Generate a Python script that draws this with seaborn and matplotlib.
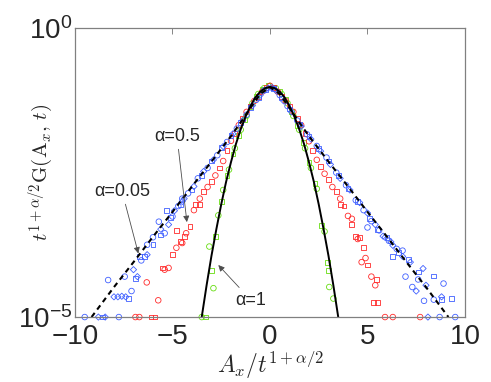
import matplotlib
matplotlib.use("Agg")
import matplotlib.pyplot as plt
import seaborn as sns
from matplotlib.ticker import NullLocator

# --- DATA ---
# alpha = 0.05 (blue)
blue_circ_x = [-9.5, -7.75, -8.3, -7.45, -7.1, -6.6, -6.3, -6.0, -5.7, -5.4, -5.0, -4.7, -4.5, -4.2,
               -3.7, -3.2, -2.7, -2.2, -1.7, -1.2, -0.7, -0.3, 0.1, 0.5, 0.9, 1.4, 1.9, 2.4, 2.9,
               3.4, 3.9, 4.4, 4.8, 5.0, 5.2, 5.6, 6.1, 6.5, 6.8, 6.95, 7.3, 7.6, 7.9, 8.4, 8.9,
               8.7, 9.5]
blue_circ_y = [1.0e-5, 1.0e-5, 4.37e-5, 5.01e-5, 2.82e-5, 9.55e-5, 1.78e-4, 2.40e-4, 4.47e-4, 2.82e-4,
               5.50e-4, 8.32e-4, 1.12e-3, 1.38e-3, 2.51e-3, 3.80e-3, 6.31e-3, 1.07e-2, 1.82e-2, 3.16e-2,
               5.75e-2, 8.32e-2, 9.33e-2, 6.92e-2, 4.47e-2, 2.51e-2, 1.45e-2, 9.12e-3, 5.75e-3, 3.16e-3,
               1.91e-3, 1.05e-3, 7.08e-4, 3.55e-4, 4.57e-4, 3.16e-4, 2.09e-4, 1.51e-4, 1.41e-4, 5.01e-5,
               3.31e-5, 4.47e-5, 1.91e-5, 2.0e-5, 3.80e-5, 1.0e-5, 1.0e-5]
blue_diam_x = [-8.8, -8.45, -8.0, -7.8, -7.6, -7.4, -7.0, -6.8, -6.3, -5.6, -5.2, -4.9, -4.5, -4.4,
               -3.9, -3.4, -2.9, -2.4, -1.9, -1.4, -0.9, -0.5, -0.1, 0.3, 0.7, 1.1, 1.6, 2.1, 2.6,
               3.1, 3.6, 4.1, 4.6, 5.0, 5.4, 5.8, 5.9, 6.2, 6.3, 6.8, 7.2, 7.5, 7.85, 8.0, 8.8, 8.1]
blue_diam_y = [1.0e-5, 1.0e-5, 2.24e-5, 2.24e-5, 2.29e-5, 2.24e-5, 6.61e-5, 5.01e-5, 1.20e-4, 3.31e-4,
               3.98e-4, 6.92e-4, 1.0e-3, 1.12e-3, 1.82e-3, 3.31e-3, 5.25e-3, 8.91e-3, 1.48e-2, 2.51e-2,
               4.57e-2, 6.92e-2, 9.12e-2, 8.32e-2, 5.50e-2, 3.55e-2, 2.00e-2, 1.20e-2, 7.41e-3, 4.37e-3,
               2.51e-3, 1.58e-3, 9.55e-4, 6.31e-4, 3.98e-4, 2.51e-4, 2.40e-4, 2.0e-4, 1.74e-4, 1.12e-4,
               8.91e-5, 2.82e-5, 6.92e-5, 3.55e-5, 2.24e-5, 1.0e-5]
blue_sq_x = [-8.6, -7.26, -6.9, -6.7, -6.45, -6.0, -5.6, -5.3, -5.1, -4.6, -4.0, -3.5, -3.0, -2.5,
             -2.0, -1.5, -1.0, -0.6, -0.2, 0.2, 0.6, 1.0, 1.5, 2.0, 2.5, 3.0, 3.5, 4.0, 4.5, 5.1,
             5.5, 6.0, 6.3, 6.6, 7.1, 7.6, 8.38, 8.8, 9.32]
blue_sq_y = [1.0e-5, 2.09e-5, 4.68e-5, 1.12e-4, 1.12e-4, 1.78e-4, 2.63e-4, 7.08e-4, 5.25e-4, 8.91e-4,
             1.58e-3, 2.82e-3, 5.01e-3, 8.71e-3, 1.38e-2, 2.34e-2, 4.17e-2, 6.31e-2, 8.71e-2, 8.91e-2,
             6.17e-2, 3.98e-2, 2.19e-2, 1.32e-2, 8.32e-3, 5.01e-3, 2.82e-3, 1.66e-3, 1.0e-3, 5.01e-4,
             3.31e-4, 2.40e-4, 1.12e-4, 1.32e-4, 1.0e-4, 6.03e-5, 5.13e-5, 2.0e-5, 2.09e-5]

# alpha = 0.5 (red)
red_circ_x = [-6.9, -6.7, -6.32, -5.73, -5.4, -5.2, -4.8, -4.5, -4.3, -3.9, -3.6, -3.2, -2.8, -2.4,
              -2.0, -1.6, -1.2, -0.8, -0.4, 0.0, 0.4, 0.8, 1.2, 1.6, 2.0, 2.4, 2.8, 3.2, 3.6, 4.0,
              4.2, 4.5, 4.7, 4.9, 5.2, 5.4, 5.9, 6.3, 7.7]
red_circ_y = [1.0e-5, 1.0e-5, 3.98e-5, 1.95e-5, 6.61e-5, 7.08e-5, 1.58e-4, 1.91e-4, 2.82e-4, 7.08e-4,
              1.12e-3, 1.78e-3, 2.82e-3, 5.01e-3, 1.12e-2, 2.09e-2, 3.55e-2, 5.50e-2, 7.94e-2, 1.0e-1,
              7.94e-2, 5.50e-2, 3.55e-2, 2.09e-2, 1.10e-2, 5.25e-3, 3.02e-3, 1.78e-3, 1.12e-3, 5.62e-4,
              5.01e-4, 2.24e-4, 8.91e-5, 1.05e-4, 5.01e-5, 3.55e-5, 1.0e-5, 1.0e-5, 1.0e-5]
red_sq_x = [-6.1, -5.9, -5.5, -5.0, -4.8, -4.6, -4.4, -4.1, -3.8, -3.6, -3.4, -3.0, -2.6, -2.2,
            -1.8, -1.4, -1.0, -0.6, -0.2, 0.2, 0.6, 1.0, 1.4, 1.8, 2.2, 2.6, 3.0, 3.4, 3.6, 3.8,
            4.2, 4.4, 4.6, 4.8, 5.0, 5.45, 5.5, 5.3]
red_sq_y = [1.0e-5, 1.0e-5, 7.08e-5, 1.20e-4, 3.16e-4, 2.00e-4, 2.51e-4, 3.63e-4, 8.91e-4, 8.91e-4,
            1.48e-3, 2.24e-3, 3.80e-3, 7.59e-3, 1.51e-2, 2.75e-2, 4.47e-2, 6.61e-2, 9.33e-2, 9.33e-2,
            6.61e-2, 4.47e-2, 2.75e-2, 1.51e-2, 7.59e-3, 3.98e-3, 2.40e-3, 1.51e-3, 8.91e-4, 8.32e-4,
            3.98e-4, 2.51e-4, 2.40e-4, 1.58e-4, 7.94e-5, 4.47e-5, 1.78e-5, 1.78e-5]

# alpha = 1 (green)
green_circ_x = [-3.5, -3.11, -2.9, -2.65, -2.4, -2.1, -1.8, -1.5, -1.2, -0.9, -0.6, -0.3, 0.0,
                0.3, 0.6, 0.9, 1.2, 1.5, 1.8, 2.1, 2.4, 2.8, 3.04, 3.25]
green_circ_y = [1.0e-5, 1.66e-4, 3.16e-5, 5.75e-4, 1.58e-3, 3.55e-3, 8.32e-3, 1.74e-2, 3.02e-2,
                5.01e-2, 7.24e-2, 9.12e-2, 1.0e-1, 9.12e-2, 7.24e-2, 5.01e-2, 3.02e-2, 1.74e-2,
                8.32e-3, 3.80e-3, 1.66e-3, 3.02e-4, 3.31e-5, 2.09e-5]
green_sq_x = [-3.3, -2.99, -2.8, -2.5, -2.2, -1.9, -1.6, -1.3, -1.0, -0.7, -0.4, -0.1, 0.2, 0.5,
              0.8, 1.1, 1.4, 1.7, 2.0, 2.31, 2.65, 2.95, 3.0]
green_sq_y = [1.0e-5, 6.46e-5, 2.51e-4, 1.0e-3, 2.82e-3, 6.61e-3, 1.38e-2, 2.63e-2, 4.37e-2, 6.61e-2,
              8.71e-2, 1.0e-1, 9.55e-2, 7.94e-2, 5.75e-2, 3.63e-2, 2.09e-2, 1.05e-2, 4.79e-3, 2.04e-3,
              3.89e-4, 8.91e-5, 6.46e-5]

# black curves
gauss_x = [-3.5, -3.25, -3.0, -2.75, -2.5, -2.25, -2.0, -1.75, -1.5, -1.25, -1.0, -0.75, -0.5, -0.25,
           0.0, 0.25, 0.5, 0.75, 1.0, 1.25, 1.5, 1.75, 2.0, 2.25, 2.5, 2.75, 3.0, 3.25, 3.5]
gauss_y = [1.0e-5, 3.55e-5, 1.15e-4, 3.31e-4, 8.91e-4, 2.19e-3, 4.79e-3, 9.77e-3, 1.78e-2, 2.95e-2,
           4.47e-2, 6.31e-2, 7.94e-2, 9.12e-2, 9.55e-2, 9.12e-2, 7.94e-2, 6.31e-2, 4.47e-2, 2.95e-2,
           1.78e-2, 9.77e-3, 4.79e-3, 2.19e-3, 8.91e-4, 3.31e-4, 1.15e-4, 3.55e-5, 1.0e-5]
dash_x = [-9.15, -8.0, -7.0, -6.0, -5.0, -4.0, -3.0, -2.0, -1.5, -1.0, -0.5, 0.0,
          0.5, 1.0, 1.5, 2.0, 3.0, 4.0, 5.0, 6.0, 7.0, 8.0, 9.15]
dash_y = [1.0e-5, 3.3e-5, 8.9e-5, 2.45e-4, 6.6e-4, 1.82e-3, 4.9e-3, 1.35e-2, 2.34e-2, 4.17e-2, 7.24e-2, 9.55e-2,
          7.24e-2, 4.17e-2, 2.34e-2, 1.35e-2, 4.9e-3, 1.82e-3, 6.6e-4, 2.45e-4, 8.9e-5, 3.3e-5, 1.0e-5]

BLUE = "#3f5fff"
RED = "#ff2a2a"
GREEN = "#66dd11"

sns.set_style("white")
plt.rcParams["font.family"] = ["Liberation Sans", "DejaVu Sans"]
plt.rcParams["mathtext.fontset"] = "cm"

fig = plt.figure(figsize=(4.91, 3.82), dpi=100)
ax = fig.add_axes([0.1527, 0.170, 0.7943, 0.7565])

def hollow(x, y, color, marker, size):
    sns.scatterplot(x=x, y=y, marker=marker, s=size, facecolor="none", edgecolor=color,
                    linewidth=0.6, ax=ax, clip_on=False, legend=False)

hollow(green_circ_x, green_circ_y, GREEN, "o", 16)
hollow(green_sq_x, green_sq_y, GREEN, "s", 12)
hollow(red_circ_x, red_circ_y, RED, "o", 16)
hollow(red_sq_x, red_sq_y, RED, "s", 12)
hollow(blue_circ_x, blue_circ_y, BLUE, "o", 16)
hollow(blue_diam_x, blue_diam_y, BLUE, "D", 10)
hollow(blue_sq_x, blue_sq_y, BLUE, "s", 12)

sns.lineplot(x=gauss_x, y=gauss_y, color="k", lw=1.4, sort=False, ax=ax)
sns.lineplot(x=dash_x, y=dash_y, color="k", lw=1.5, sort=False, ax=ax, linestyle=(0, (2.5, 2)))

ax.set_yscale("log")
ax.set_xlim(-10, 10)
ax.set_ylim(1e-5, 1e0)
ax.set_xticks([-10, -5, 0, 5, 10])
ax.set_yticks([1e-5, 1e0])
ax.yaxis.set_minor_locator(NullLocator())
ax.tick_params(axis="both", direction="in", top=True, right=True, length=4, width=0.6,
               color="0.45", labelsize=20)
ax.tick_params(axis="x", pad=5)
ax.tick_params(axis="y", pad=2)
for sp in ax.spines.values():
    sp.set_color("0.5")
    sp.set_linewidth(0.9)

ax.set_xlabel(r"$A_x/t^{1+\alpha/2}$", fontsize=17)
ax.set_ylabel(r"$t^{1+\alpha/2}\mathrm{G}(\mathrm{A}_x,\,t)$", fontsize=15)
ax.xaxis.set_label_coords(0.5, -0.108)
ax.yaxis.set_label_coords(-0.05, 0.5)

arrow = dict(arrowstyle="-|>", color="0.3", lw=0.6, mutation_scale=9, shrinkA=1, shrinkB=0)
ax.annotate("α=0.5", xy=(-4.26, 4.4e-4), xytext=(-4.77, 1.35e-2), fontsize=13,
            ha="center", va="center", arrowprops=arrow)
ax.annotate("α=0.05", xy=(-6.75, 1.26e-4), xytext=(-7.59, 1.51e-3), fontsize=13,
            ha="center", va="center", arrowprops=arrow)
ax.annotate("α=1", xy=(-2.65, 7.94e-5), xytext=(-0.97, 1.95e-5), fontsize=13,
            ha="center", va="center", arrowprops=arrow)

fig.savefig("out.png", dpi=100)
